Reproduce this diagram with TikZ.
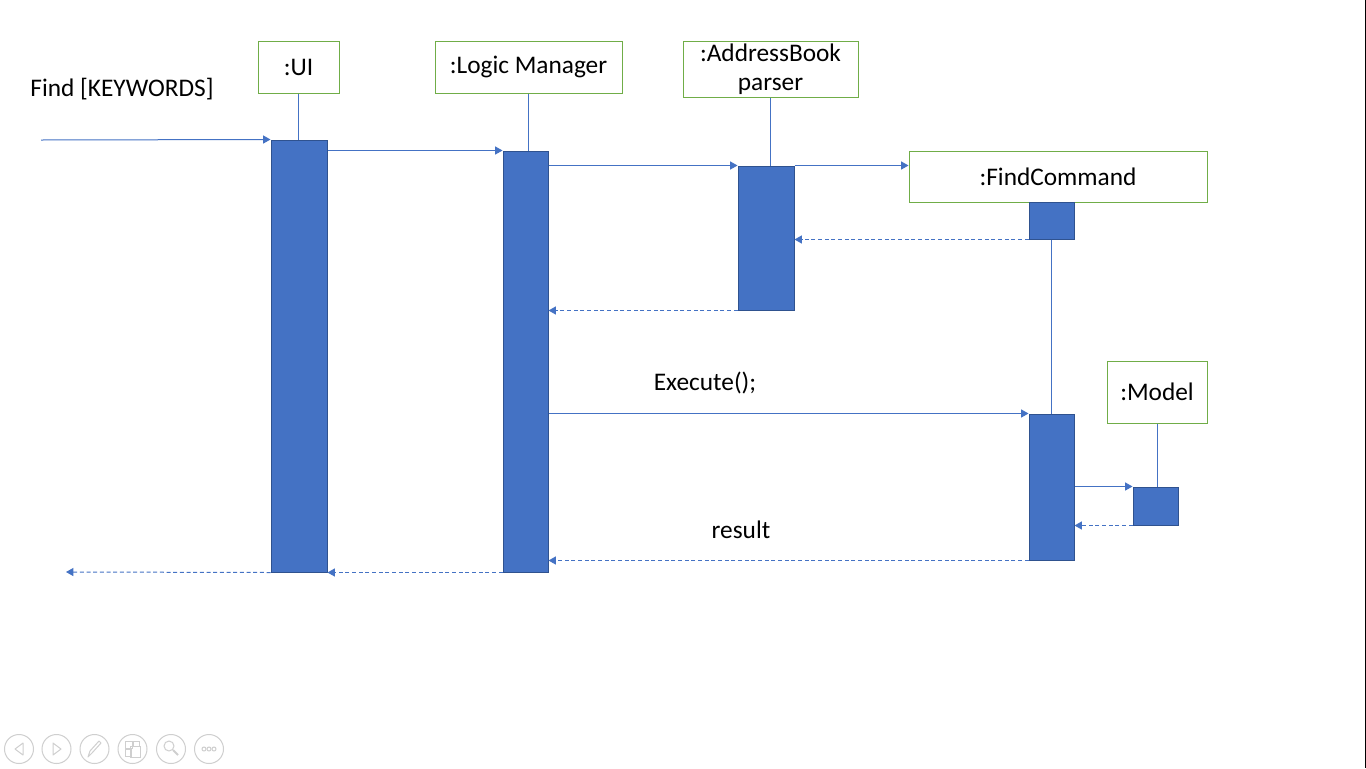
\documentclass[tikz,border=0pt]{standalone}
\usepackage{fontspec}
\setmainfont{Carlito}
\usetikzlibrary{arrows.meta}
\definecolor{ln}{HTML}{4472C4}
\definecolor{actb}{HTML}{2F528F}
\definecolor{grn}{HTML}{70AD47}
\definecolor{ico}{HTML}{CFCFCF}
\begin{document}
\begin{tikzpicture}[x=0.75pt,y=-0.75pt,
  every node/.style={font=\fontsize{19pt}{22pt}\selectfont, inner sep=0pt},
  obj/.style 2 args={draw=grn, line width=0.75pt, fill=white, minimum width=#1*0.75pt, minimum height=#2*0.75pt, align=center},
  act/.style 2 args={draw=actb, line width=0.75pt, fill=ln, minimum width=#1*0.75pt, minimum height=#2*0.75pt},
  msg/.style={draw=ln, line width=0.75pt, -{Triangle[length=5.5pt,width=6pt]}},
  ret/.style={msg, dash pattern=on 3pt off 2pt},
  life/.style={draw=ln, line width=0.75pt},
  icon/.style={draw=ico, line width=0.75pt}]
\useasboundingbox (0,0) rectangle (1366,768);
\fill[white] (0,0) rectangle (1366,768);
\draw[black, line width=0.75pt] (1365,0) -- (1365,768);

% objects
\node[obj={81}{52}] (UI) at (298.5,67) {:UI};
\node[obj={187}{52}] (LM) at (528.5,67) {:Logic Manager};
\node[obj={175}{56}] (AB) at (770.5,69) {:AddressBook\\parser};
\node[obj={298}{51}] (FC) at (1058,176.5) {:FindCommand};
\node[obj={100}{62}] (MO) at (1157,392) {:Model};

% activations
\node[act={56}{432}] (UIa) at (299,356) {};
\node[act={45}{421}] (LMa) at (525.5,361.5) {};
\node[act={56}{144}] (ABa) at (766,238) {};
\node[act={45}{37}] (FCa1) at (1051.5,220.5) {};
\node[act={45}{146}] (FCa2) at (1051.5,487) {};
\node[act={45}{38}] (MOa) at (1155.5,506) {};

% lifelines
\draw[life] (UI.south) -- (UI.south |- UIa.north);
\draw[life] (LM.south) -- (LM.south |- LMa.north);
\draw[life] (AB.south) -- (AB.south |- ABa.north);
\draw[life] (FCa1.south) -- (FCa2.north);
\draw[life] (MO.south) -- (MO.south |- MOa.north);

% messages
\coordinate (start) at (41,140);
\coordinate (endL) at (66,572);
\node (find) at (122,89) {Find [KEYWORDS]};
\draw[msg] (start) -- (UIa.north west);
\draw[msg] (UIa.east |- LMa.north) -- (LMa.north west);
\draw[msg] (LMa.east |- ABa.north) -- (ABa.north west);
\draw[msg] (ABa.north east) -- (ABa.north east -| FC.west);
\draw[ret] (FCa1.south west) -- (FCa1.south west -| ABa.east);
\draw[ret] (ABa.south west) -- (ABa.south west -| LMa.east);
\draw[msg] (LMa.east |- FCa2.north) -- (FCa2.north west);
\node (exec) at (705,383) {Execute();};
\draw[msg] (FCa2.east |- MOa.north) -- (MOa.north west);
\draw[ret] (MOa.south west) -- (MOa.south west -| FCa2.east);
\draw[ret] (FCa2.south west) -- (FCa2.south west -| LMa.east);
\node (res) at (741,530) {result};
\draw[ret] (LMa.south west) -- (LMa.south west -| UIa.east);
\draw[ret] (UIa.south west) -- (endL);

% presentation controls
\foreach \cx in {19,56.5,94.5,132.5,171,209}
  \draw[icon] (\cx,749) circle[radius=14.5*0.75pt];
\draw[icon, line join=round] (23,743) -- (15,749) -- (23,755) -- cycle;
\draw[icon, line join=round] (53,743) -- (61,749) -- (53,755) -- cycle;
\draw[icon, line join=round] (88,757) -- (90,751) -- (99,741) -- (101,743) -- (92,753) -- cycle;
\draw[icon] (125,741) rectangle (132,748);
\draw[icon] (133,741) rectangle (139,746);
\draw[icon] (125,749) rectangle (131,756);
\draw[icon] (130,746) rectangle (140,757);
\draw[icon] (169,746) circle[radius=5*0.75pt];
\draw[icon, line width=1.5pt] (173,750) -- (178,755);
\foreach \dx in {-5,0,5}
  \draw[icon] (209+\dx,749) circle[radius=2*0.75pt];
\end{tikzpicture}
\end{document}
